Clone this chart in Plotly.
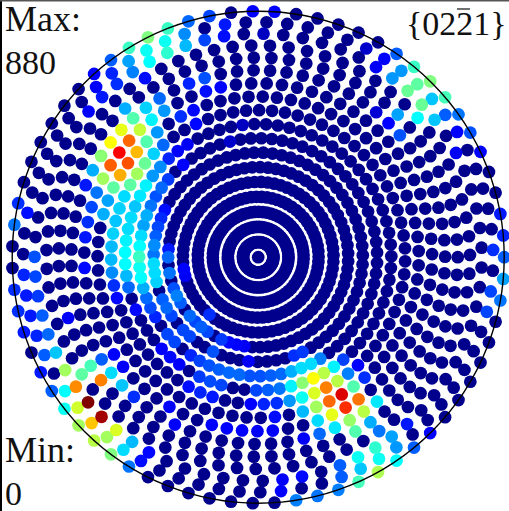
import math
import plotly.graph_objects as go

# Pole figure. Rings of equal polar-angle step, 71 azimuths per ring.
ring_polar_deg = [5 * i for i in range(1, 19)]
ring_azimuths = 71
ring_phase_steps = [0.0, 0.3, 0.6, 0.1, 0.3, 0.5, 0.2, 0.45, 0.08, 0.68, 0.43, 0.2, 0.03, 0.0, 0.12, 0.48, 0.35, 0.0]

# Points above the background level: x, y in picture units (1/3 px), value in counts
nw_x = [755,627,565,675,670,503,553,442,495,555,500,612,385,438,447,332,384,396,334,282,433,287,348,304,565,612,617,662,263,478,373,436,492,541,580,397,453,587,470,363,419,386,438,488,329,357,409,459,533,562,301,331,382,433,480,507,550,277,360,409,458,505,255,308,340,388,437,288,475,371,322,420,467,404,451,498,273,356,310,392,436,487,480,345,262,430,383,475,340,255,378,463,333,420,375,505,462,53,80,42,690,728,423]
nw_y = [28,45,60,72,108,85,100,110,123,137,158,120,143,150,185,178,182,217,218,219,235,260,250,292,250,235,272,262,335,295,326,323,333,350,330,355,358,372,397,391,389,422,427,436,428,458,457,463,454,433,470,495,489,490,500,475,495,512,525,522,527,538,557,540,565,555,556,578,562,590,603,588,592,620,618,622,623,627,643,655,648,645,675,665,665,678,688,705,703,713,722,725,742,738,755,740,752,608,638,673,425,375,708]
nw_v = [110,170,200,130,120,380,230,440,340,270,370,170,380,340,330,190,250,220,140,110,120,110,150,130,140,180,120,110,110,200,260,290,240,150,115,400,320,115,240,530,500,680,400,200,550,770,610,290,110,100,450,690,700,420,230,140,110,260,620,470,240,160,130,470,410,410,320,210,200,300,250,310,180,280,210,120,170,290,260,300,260,145,170,280,150,250,300,190,290,130,320,230,270,330,330,130,210,150,120,210,60,50,300]

ne_x = [58,25,335,388,363,425,440,411,477,526,488,457,571,532,500,612,571,428,489,539,400,363,647,607,434,603,678,737,745,715]
ne_y = [33,100,145,177,200,160,211,233,200,244,253,271,291,296,313,344,344,343,352,358,369,335,397,396,405,457,455,640,706,750]
ne_v = [110,50,60,110,105,190,240,240,380,440,410,420,390,280,420,210,190,250,330,280,110,70,180,110,180,100,110,130,140,150]

sw_x = [102,335,375,418,462,505,70,105,333,378,420,422,463,467,508,550,548,253,43,77,113,340,385,430,520,483,438,350,528,53,90,127,407,451,495,540,203,465,507,565,585,70,108,145,545,602,635,503,630,575,523,660,680,710,745,485,630,573,510,600,132,168,340,735,120,195,270,303,368,537,243,333,302,655,718,750,625,687,597,630,665,367,227,195,153,402,567,603,640,765,755,264,232,190,508,305,272,235,525,636,680,726,348,319,282,397,447,369,332,422,385]
sw_y = [10,17,27,10,17,12,60,67,55,63,38,68,45,72,50,35,60,40,105,122,126,95,97,100,100,125,130,132,130,170,183,185,165,160,150,138,190,187,182,178,205,232,243,240,218,210,183,238,230,252,262,240,262,268,270,283,283,302,307,320,300,295,298,320,352,348,333,315,335,330,358,355,377,343,360,362,335,353,365,380,390,392,397,410,410,428,397,413,430,407,450,444,460,463,457,488,505,513,510,510,520,527,527,548,558,563,595,586,600,620,636]
sw_v = [180,270,330,380,300,200,140,170,230,270,340,330,300,290,210,110,100,115,150,130,160,150,200,260,180,190,200,115,220,150,130,190,115,175,200,190,105,140,170,200,170,130,140,200,170,190,150,170,170,170,170,160,115,110,100,110,180,140,115,165,190,280,110,105,130,470,390,190,105,105,410,300,660,190,200,180,180,200,160,175,170,280,650,330,190,150,120,140,130,180,110,880,510,340,110,850,600,470,110,110,110,110,520,470,490,270,115,300,440,120,210]

se_x = [745,743,737,707,697,108,135,195,265,311,168,138,108,237,78,47,15,205,175,143,109,73,38,5,282,249,330,215,296,180,143,105,67,28,260,223,311,367,183,272,144,327,60,231,285,188,347,457,241,302,373,195,526,54,10,147,411,362,424,477,311,371,426,256,317,369,260,143,85,311,250,77,187,123]
se_y = [10,72,137,110,172,305,295,312,316,331,327,342,352,337,358,362,366,355,372,385,396,402,406,408,357,378,370,398,396,415,428,438,445,449,420,440,434,440,458,459,470,470,487,483,497,498,503,508,519,531,530,537,535,528,530,552,545,578,578,580,607,614,620,632,644,653,668,667,675,683,706,711,725,738]
se_v = [190,250,210,170,170,150,160,220,165,110,300,300,260,320,200,190,180,490,550,450,320,210,190,170,220,490,150,660,400,520,340,240,150,140,800,680,670,310,470,730,270,490,120,530,460,300,260,130,310,400,210,200,110,110,105,105,250,370,240,190,340,340,330,190,280,480,190,115,105,390,220,110,210,220]

# Frame of the picture in the same units
CX, CY, R = 774.6, 771.6, 738.0
WIDTH, HEIGHT = 509, 511

xs, ys, vs = [CX], [CY], [0.0]
for theta, f in zip(ring_polar_deg, ring_phase_steps):
    rad = R * math.sqrt(2) * math.sin(math.radians(theta) / 2)
    for k in range(ring_azimuths):
        a = (k + f) * 2 * math.pi / ring_azimuths
        xs.append(CX + rad * math.cos(a))
        ys.append(CY - rad * math.sin(a))
        vs.append(0.0)

def assign(px, py, pv, ox, oy):
    for x, y, v in zip(px, py, pv):
        x += ox
        y += oy
        j = min(range(len(xs)), key=lambda m: (xs[m] - x) ** 2 + (ys[m] - y) ** 2)
        vs[j] = v

assign(nw_x, nw_y, nw_v, 0, 0)
assign(ne_x, ne_y, ne_v, 765, 0)
assign(sw_x, sw_y, sw_v, 0, 765)
assign(se_x, se_y, se_v, 765, 765)

# low values first so that the brighter dots sit on top where dots overlap
order = sorted(range(len(vs)), key=lambda m: vs[m])
xs = [xs[m] for m in order]
ys = [ys[m] for m in order]
vs = [vs[m] for m in order]

jet = [[0, "rgb(0,0,140)"], [0.125, "rgb(0,0,255)"], [0.375, "rgb(0,255,255)"],
       [0.625, "rgb(255,255,0)"], [0.875, "rgb(255,0,0)"], [1, "rgb(128,0,0)"]]

fig = go.Figure(go.Scatter(
    x=xs, y=ys, mode="markers", hoverinfo="skip",
    marker=dict(size=12.7, color=vs, cmin=0, cmax=880, colorscale=jet, line=dict(width=0), showscale=False),
))

serif = "Liberation Serif"
def label(text, x, y, size=34, anchor="left", xshift=0, yshift=0):
    fig.add_annotation(x=x, y=y, xref="x", yref="y", text=text, showarrow=False, xanchor=anchor,
                       yanchor="bottom", font=dict(family=serif, size=size, color="#111"),
                       borderpad=0, borderwidth=0, xshift=xshift, yshift=yshift)

label("Max:", 15, 117, size=36)
label("880", 15, 243)
label("Min:", 15, 1410, size=36)
label("0", 15, 1500, yshift=-12)
label("{0221}", 1515, 126, anchor="right", xshift=2)

fig.update_layout(
    width=WIDTH, height=HEIGHT, margin=dict(l=0, r=0, t=0, b=0), showlegend=False,
    paper_bgcolor="white", plot_bgcolor="white",
    xaxis=dict(range=[0, 3 * WIDTH], visible=False, fixedrange=True),
    yaxis=dict(range=[3 * HEIGHT, 0], visible=False, fixedrange=True),
    shapes=[
        dict(type="circle", xref="x", yref="y", x0=CX - R, x1=CX + R, y0=CY - R, y1=CY + R,
             line=dict(color="black", width=1.4)),
        dict(type="line", xref="x", yref="y", x0=3, x1=3, y0=0, y1=3 * HEIGHT, line=dict(color="black", width=2)),
        dict(type="line", xref="x", yref="y", x0=0, x1=3 * WIDTH, y0=2, y1=2, line=dict(color="#555", width=1.5)),
        dict(type="line", xref="x", yref="y", x0=1371, x1=1410, y0=27, y1=27, line=dict(color="#111", width=1.2)),
    ],
)
fig.write_html("out.html", config={"displayModeBar": False},
               post_script="document.body.style.margin='0';")
